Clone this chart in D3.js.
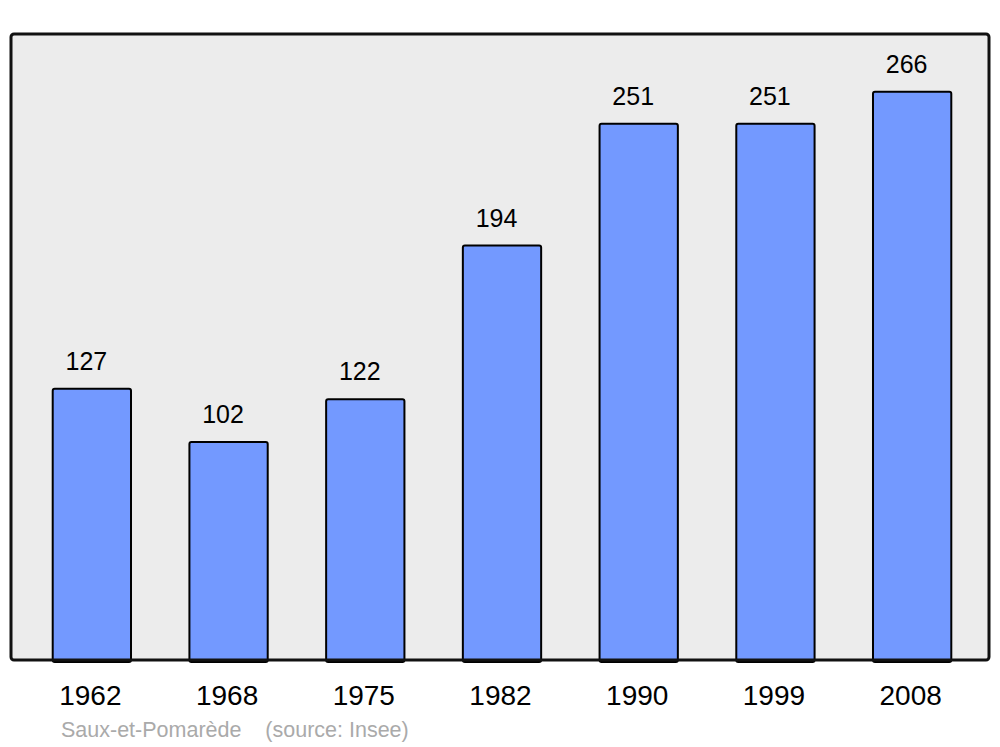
<!DOCTYPE html>
<html lang="fr">
<head>
  <meta charset="UTF-8">
  <title>Saux-et-Pomarède population</title>
  <style>
    body { margin: 0; background: #ffffff; }
    svg { display: block; font-family: "Liberation Sans", Arial, sans-serif; }
  </style>
</head>
<body>
  <div id="chart"></div>
  <script src="https://d3js.org/d3.v7.min.js"></script>
  <script>
    // data
    const years = ['1962', '1968', '1975', '1982', '1990', '1999', '2008'];
    const population = [127, 102, 122, 194, 251, 251, 266];
    const townName = 'Saux-et-Pomarède';
    const sourceText = '(source: Insee)';

    const width = 1000, height = 747;
    const frame = { left: 11, top: 34, right: 989, bottom: 660 };

    const svg = d3.select('#chart').append('svg')
      .attr('width', width)
      .attr('height', height);

    const x = d3.scaleBand()
      .domain(years)
      .range([24, 981])
      .paddingInner(0.42)
      .paddingOuter(0.21);

    const y = d3.scaleLinear()
      .domain([0, 293])
      .range([frame.bottom, frame.top]);

    // plot background
    svg.append('rect')
      .attr('x', frame.left)
      .attr('y', frame.top)
      .attr('width', frame.right - frame.left)
      .attr('height', frame.bottom - frame.top)
      .attr('rx', 3)
      .attr('fill', '#ececec');

    const rows = years.map((yr, i) => ({ year: yr, value: population[i] }));

    // bars
    svg.selectAll('.bar')
      .data(rows)
      .enter().append('rect')
      .attr('class', 'bar')
      .attr('x', d => x(d.year))
      .attr('y', d => y(d.value))
      .attr('width', x.bandwidth() - 1)
      .attr('height', d => y(0) - y(d.value) + 2)
      .attr('rx', 2)
      .attr('fill', '#7399ff')
      .attr('stroke', '#000')
      .attr('stroke-width', 2);

    // value labels
    svg.selectAll('.val')
      .data(rows)
      .enter().append('text')
      .attr('class', 'val')
      .attr('x', d => x(d.year) + x.bandwidth() / 2 - 6)
      .attr('y', d => y(d.value) - 19)
      .attr('text-anchor', 'middle')
      .attr('font-size', 25)
      .attr('fill', '#000')
      .text(d => d.value);

    // frame border on top
    svg.append('rect')
      .attr('x', frame.left)
      .attr('y', frame.top)
      .attr('width', frame.right - frame.left)
      .attr('height', frame.bottom - frame.top)
      .attr('rx', 3)
      .attr('fill', 'none')
      .attr('stroke', '#111')
      .attr('stroke-width', 3);

    // x axis labels
    const xAxis = svg.append('g')
      .attr('transform', `translate(-2,${frame.bottom})`)
      .call(d3.axisBottom(x).tickSize(0).tickPadding(0));
    xAxis.select('.domain').remove();
    xAxis.selectAll('text')
      .attr('y', 45)
      .attr('dy', 0)
      .attr('font-size', 28)
      .attr('font-family', '"Liberation Sans", Arial, sans-serif')
      .attr('fill', '#000');

    // caption
    svg.append('text')
      .attr('x', 61)
      .attr('y', 737)
      .attr('font-size', 21.5)
      .attr('fill', '#aaaaaa')
      .attr('xml:space', 'preserve')
      .text(townName + '    ' + sourceText);
  </script>
</body>
</html>
